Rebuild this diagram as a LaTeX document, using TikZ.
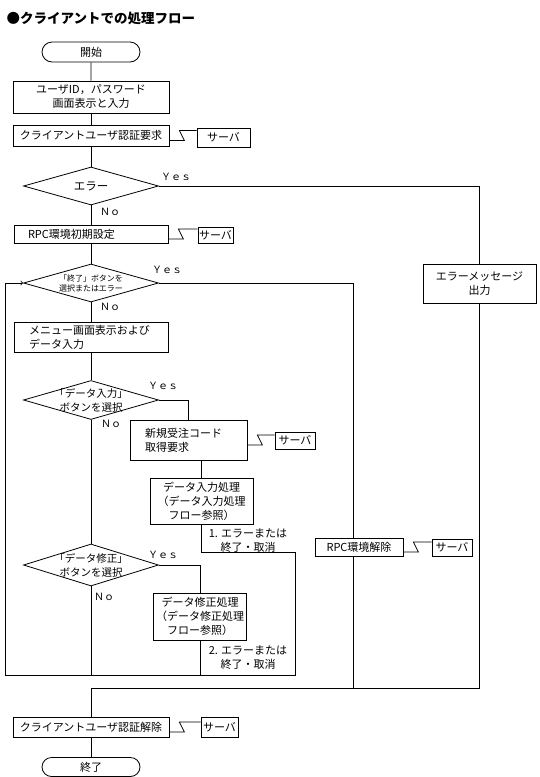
\documentclass[tikz,border=0pt]{standalone}
\usepackage{fontspec}
\setmainfont{Noto Sans CJK JP}
\usetikzlibrary{shapes.geometric,shapes.misc}

\tikzset{
  box/.style={draw, rectangle, inner sep=2pt, align=center},
  term/.style={draw, rounded rectangle, minimum width=98pt, minimum height=20pt, inner sep=0pt},
  dec/.style={draw, diamond, minimum width=135pt, minimum height=38pt, inner sep=0pt},
  srv/.style={draw, rectangle, inner sep=1pt, minimum height=17pt},
  yn/.style={font=\fontsize{10}{12}\selectfont, inner sep=0pt},
  note/.style={align=center, inner sep=0pt, anchor=north},
}

% zigzag line from a box to its server
\newcommand{\srvlink}[2]{%
  \draw (#1.east) ++(0,5) -- ++(15,0) -- ++(-5,-10) coordinate (#2z) -- (#2z -| #2.west);}

\begin{document}
\begin{tikzpicture}[x=1pt, y=-1pt, line width=0.8pt, font=\fontsize{11}{14}\selectfont]
  \useasboundingbox (0,0) rectangle (539,777);
  \node[anchor=west, font=\fontsize{13.5}{16}\selectfont\bfseries] (title) at (3,18) {●クライアントでの処理フロー};

  % main column
  \node[term] (start) at (91,52) {開始};
  \node[box, minimum width=156pt, minimum height=32pt] (b1) at (91,97) {ユーザID，パスワード\\画面表示と入力};
  \node[box, minimum width=156pt, minimum height=21pt] (b2) at (91,135.5) {クライアントユーザ認証要求};
  \node[srv, minimum width=53pt, minimum height=19pt] (s1) at (223.5,137.5) {サーバ};
  \node[dec, label={[font=\fontsize{11.5}{14}\selectfont]center:エラー}] (d1) at (91,186) {};
  \node[box, text width=126pt, inner xsep=14pt, align=left, minimum height=18pt] (b3) at (91,234) {RPC環境初期設定};
  \node[srv, minimum width=35pt, minimum height=16pt] (s2) at (215.5,235) {サーバ};
  \node[dec, label={[align=center, font=\fontsize{8}{10}\selectfont]center:{「終了」ボタンを\\選択またはエラー}}] (d2) at (91,283) {};
  \node[box, text width=124pt, inner xsep=15pt, align=left, minimum height=30pt] (b4) at (91,337) {メニュー画面表示および\\データ入力};
  \node[dec, minimum height=39pt, label={[align=center, font=\fontsize{10.5}{14}\selectfont]center:{「データ入力」\\ボタンを選択}}] (d3) at (91,400) {};
  \node[dec, minimum height=42pt, label={[align=center, font=\fontsize{10.5}{14}\selectfont]center:{「データ修正」\\ボタンを選択}}] (d4) at (91,565) {};

  % data input branch
  \node[box, text width=87pt, inner xsep=15pt, align=left, minimum height=40pt] (b5) at (188.5,440) {新規受注コード\\取得要求};
  \node[srv, minimum width=40pt, minimum height=17pt] (s3) at (295,440.5) {サーバ};
  \node[box, minimum width=103pt, minimum height=46pt] (b6) at (201.5,501) {データ入力処理\\（データ入力処理\\フロー参照）};
  \node[note] (err1) at (248,528) {1. エラーまたは\\終了・取消};

  % data edit branch
  \node[box, minimum width=93pt, minimum height=47pt] (b7) at (200,616.5) {データ修正処理\\（データ修正処理\\フロー参照）};
  \node[note] (err2) at (248,645) {2. エラーまたは\\終了・取消};

  % right side
  \node[box, minimum width=113pt, minimum height=39pt] (e1) at (479.5,283.5) {エラーメッセージ\\出力};
  \node[box, minimum width=88pt, minimum height=18pt] (b8) at (359,547) {RPC環境解除};
  \node[srv, minimum width=40pt, minimum height=17pt] (s4) at (452,547.5) {サーバ};

  % end
  \node[box, minimum width=156pt, minimum height=20pt] (b9) at (91,727) {クライアントユーザ認証解除};
  \node[srv, minimum width=37pt, minimum height=20pt] (s5) at (219.5,727) {サーバ};
  \node[term, minimum height=19pt] (stop) at (91,767) {終了};

  % yes / no
  \node[yn] (yes1) at (176,177) {Ｙｅｓ};
  \node[yn] (no1) at (110,212) {Ｎｏ};
  \node[yn] (yes2) at (167,270) {Ｙｅｓ};
  \node[yn] (no2) at (110,307) {Ｎｏ};
  \node[yn] (yes3) at (163,386) {Ｙｅｓ};
  \node[yn] (no3) at (111,424) {Ｎｏ};
  \node[yn] (yes4) at (163,555) {Ｙｅｓ};
  \node[yn] (no4) at (104,597) {Ｎｏ};

  \coordinate (j) at (353,688);
  \coordinate (r1) at (295,552);
  \coordinate (bl) at (5,675);

  % connectors
  \draw (start) -- (b1);
  \draw (b1) -- (b2);
  \draw (b2) -- (d1);
  \draw (d1) -- (b3);
  \draw (b3) -- (d2);
  \draw (d2) -- (b4);
  \draw (b4) -- (d3);
  \draw (d3) -- (d4);
  \draw (d1.east) -| (e1);
  \draw (e1) -- (e1 |- j) -- (j);
  \draw (d2.east) -| (b8.north -| j);
  \draw (b8.south -| j) -- (j) -| (b9);
  \draw (b9) -- (stop);
  \draw (d3.east) -| (b5);
  \draw (b6.north |- b5.south) -- (b6);
  \draw[->] (b6) |- (r1) |- (bl) |- (d2.west);
  \draw (d4.east) -| (b7);
  \draw (d4) -- (d4 |- bl);
  \draw (b7) -- (b7 |- bl);

  \srvlink{b2}{s1}
  \srvlink{b3}{s2}
  \srvlink{b5}{s3}
  \srvlink{b8}{s4}
  \srvlink{b9}{s5}
\end{tikzpicture}
\end{document}
